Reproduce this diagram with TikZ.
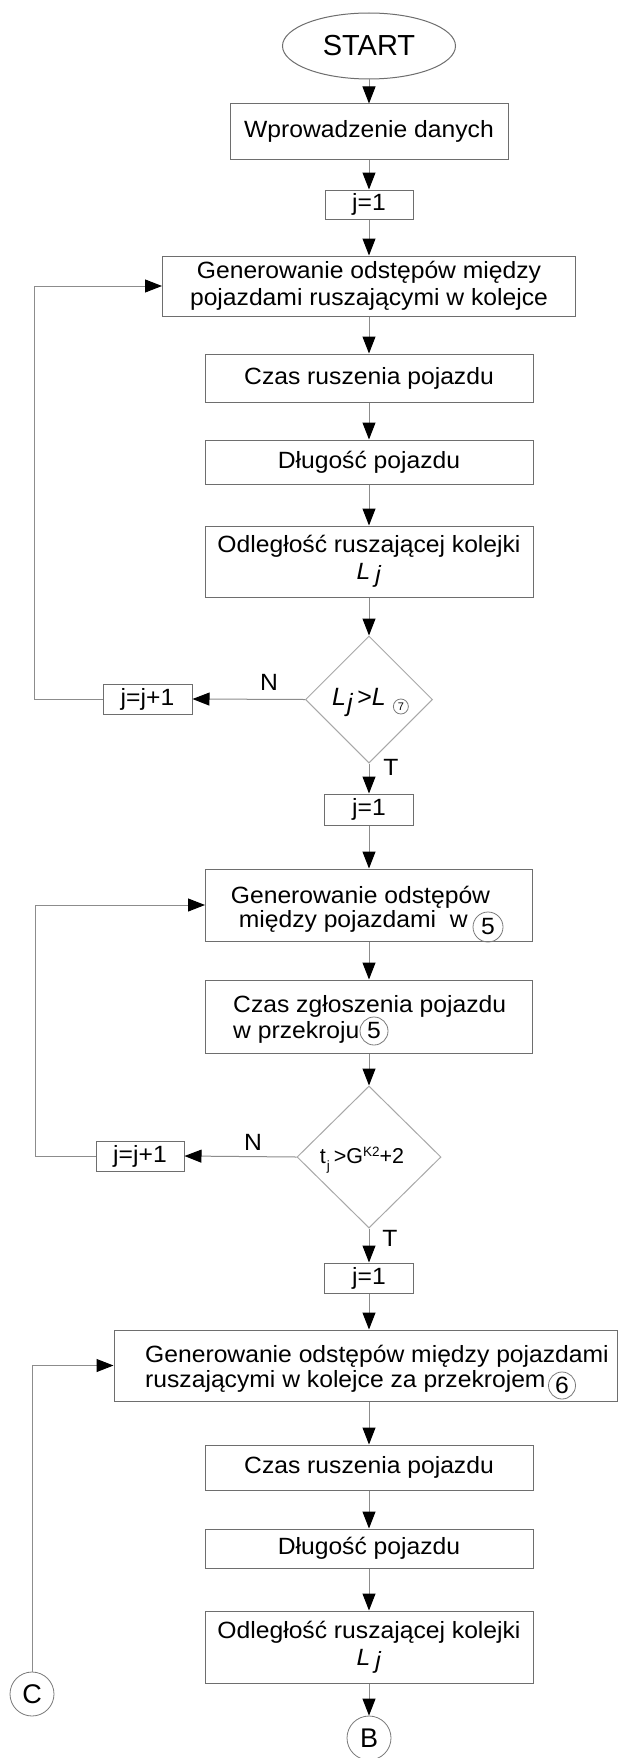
\documentclass[tikz,border=0pt]{standalone}
\usepackage{fontspec}
\setmainfont{Liberation Sans}[FakeStretch=1.05]
\newfontfamily\plainsans{Liberation Sans}
\usetikzlibrary{shapes.geometric,arrows.meta}

\definecolor{boxgray}{HTML}{6E6E6E}
\definecolor{linegray}{HTML}{8C8C8C}
\definecolor{decgray}{HTML}{A8A8A8}
\definecolor{ringgray}{HTML}{7A7A7A}

% L with subscript j, as printed in the queue-length boxes
\newcommand\Lj{\textit{L}\hspace{5pt}\raisebox{-3pt}{\textit{j}}}

\begin{document}
\begin{tikzpicture}[x=1pt,y=-1pt,
  every node/.style={font=\fontsize{23.5}{27}\selectfont, text=black},
  box/.style={draw=boxgray, line width=1pt, rectangle, inner sep=0pt, align=center},
  term/.style={draw=boxgray, line width=1pt, ellipse, inner sep=0pt,
    font=\plainsans\fontsize{29}{30}\selectfont},
  dec/.style={draw=decgray, line width=1pt, diamond, aspect=1, inner sep=0pt},
  ring/.style={draw=ringgray, line width=0.8pt, circle, inner sep=0pt},
  conn/.style={draw=linegray, line width=1pt,
    -{Triangle[length=17pt,width=13pt,color=black]}},
  lbl/.style={inner sep=0pt}
]
\fill[white] (0,0) rectangle (620,1758);
\useasboundingbox (0,0) rectangle (620,1758);

% ---- first loop: vehicles starting in the queue
\node[term, minimum width=173pt, minimum height=66pt] (start) at (369,46) {START};
\node[box, minimum width=278pt, minimum height=55pt] (wprow) at (369,131.5) {Wprowadzenie danych};
\node[box, minimum width=88pt, minimum height=29pt] (j1a) at (369,204.5) {j=1};
\node[box, minimum width=413pt, minimum height=60pt] (gen1) at (369,286)
  {Generowanie odstępów między\\pojazdami ruszającymi w kolejce};
\node[box, minimum width=328pt, minimum height=48pt] (czas1) at (369,378) {Czas ruszenia pojazdu};
\node[box, minimum width=328pt, minimum height=44pt] (dl1) at (369,462) {Długość pojazdu};
\node[box, minimum width=328pt, minimum height=71pt] (odl1) at (369,561.5)
  {Odległość ruszającej kolejki\\\Lj};
\node[dec, minimum width=127pt, minimum height=127pt] (dia1) at (369,699.5) {};
\node[lbl, anchor=base] (dia1t) at (359,705)
  {\plainsans\fontsize{25}{26}\selectfont\textit{L}\kern1pt\raisebox{-6pt}{\textit{j}}\kern4pt>\textit{L}};
\node[ring, anchor=west, minimum size=15pt, font=\plainsans\fontsize{11}{11}\selectfont] (r7)
  at ([xshift=7pt,yshift=-1.5pt]dia1t.base east) {7};
\node[lbl] (n1) at (269,682) {N};
\node[lbl] (t1) at (391,767) {T};
\node[box, minimum width=89pt, minimum height=30pt] (jj1) at (147.5,699) {j=j+1};

% ---- second loop: arrivals at cross-section 5
\node[box, minimum width=89pt, minimum height=31pt] (j1b) at (369,809.5) {j=1};
\node[box, minimum width=327pt, minimum height=72pt] (gen2) at (369,905) {};
\node[lbl, anchor=base] (gen2a) at (360.5,903) {Generowanie odstępów};
\node[lbl, anchor=base east] (gen2b) at (468,927) {między pojazdami\ \ w};
\node[ring, minimum size=30pt] (r5a) at (488,927) {5};
\node[box, minimum width=327pt, minimum height=73pt] (czas2) at (369,1016.5) {};
\node[lbl, anchor=base west] (czas2a) at (233,1012) {Czas zgłoszenia pojazdu};
\node[lbl, anchor=base west] (czas2b) at (233,1038) {w przekroju};
\node[ring, minimum size=28pt] (r5b) at (374,1031) {5};
\node[dec, minimum width=144pt, minimum height=142pt] (dia2) at (369,1157) {};
\node[lbl, anchor=base, font=\plainsans\fontsize{21.5}{24}\selectfont] (dia2t) at (362,1163)
  {t\kern1pt\raisebox{-7pt}{\fontsize{13.5}{14}\selectfont j}\kern4pt>G\raisebox{7pt}{\fontsize{13.5}{14}\selectfont K2}+2};
\node[lbl] (n2) at (253,1142) {N};
\node[lbl] (t2) at (390,1238) {T};
\node[box, minimum width=88pt, minimum height=30pt] (jj2) at (140,1156) {j=j+1};

% ---- third part: queue behind cross-section 6
\node[box, minimum width=89pt, minimum height=30pt] (j1c) at (369,1278) {j=1};
\node[box, minimum width=503pt, minimum height=71pt] (gen3) at (365.5,1365.5) {};
\node[lbl, anchor=base west] (gen3a) at (145,1362) {Generowanie odstępów między pojazdami};
\node[lbl, anchor=base west] (gen3b) at (145,1387) {ruszającymi w kolejce za przekrojem};
\node[ring, minimum size=27pt] (r6) at (562,1385.5) {6};
\node[box, minimum width=328pt, minimum height=45pt] (czas3) at (369,1467.5) {Czas ruszenia pojazdu};
\node[box, minimum width=328pt, minimum height=39pt] (dl2) at (369,1548.5) {Długość pojazdu};
\node[box, minimum width=328pt, minimum height=72pt] (odl2) at (369,1647)
  {Odległość ruszającej kolejki\\\Lj};
\node[ring, minimum size=44pt, font=\plainsans\fontsize{27}{28}\selectfont] (cB) at (369,1738) {B};
\node[ring, minimum size=44pt, font=\plainsans\fontsize{27}{28}\selectfont] (cC) at (32,1694) {C};

% ---- connectors
\draw[conn] (start.south) -- (wprow.north);
\draw[conn] (wprow.south) -- (j1a.north);
\draw[conn] (j1a.south) -- (gen1.north);
\draw[conn] (gen1.south) -- (czas1.north);
\draw[conn] (czas1.south) -- (dl1.north);
\draw[conn] (dl1.south) -- (odl1.north);
\draw[conn] (odl1.south) -- (dia1.north);
\draw[conn] (dia1.west) -- (jj1.east);
\draw[conn] (jj1.west) -- ++(-68,0) |- (gen1.west);
\draw[conn] (dia1.south) -- (j1b.north);
\draw[conn] (j1b.south) -- (gen2.north);
\draw[conn] (gen2.south) -- (czas2.north);
\draw[conn] (czas2.south) -- (dia2.north);
\draw[conn] (dia2.west) -- (jj2.east);
\draw[conn] (jj2.west) -- ++(-60,0) |- (gen2.west);
\draw[conn] (dia2.south) -- (j1c.north);
\draw[conn] (j1c.south) -- (j1c.south |- gen3.north);
\draw[conn] (czas3.north |- gen3.south) -- (czas3.north);
\draw[conn] (czas3.south) -- (dl2.north);
\draw[conn] (dl2.south) -- (odl2.north);
\draw[conn] (odl2.south) -- (cB.north);
\draw[conn] (cC.north) |- (gen3.west);
\end{tikzpicture}
\end{document}
